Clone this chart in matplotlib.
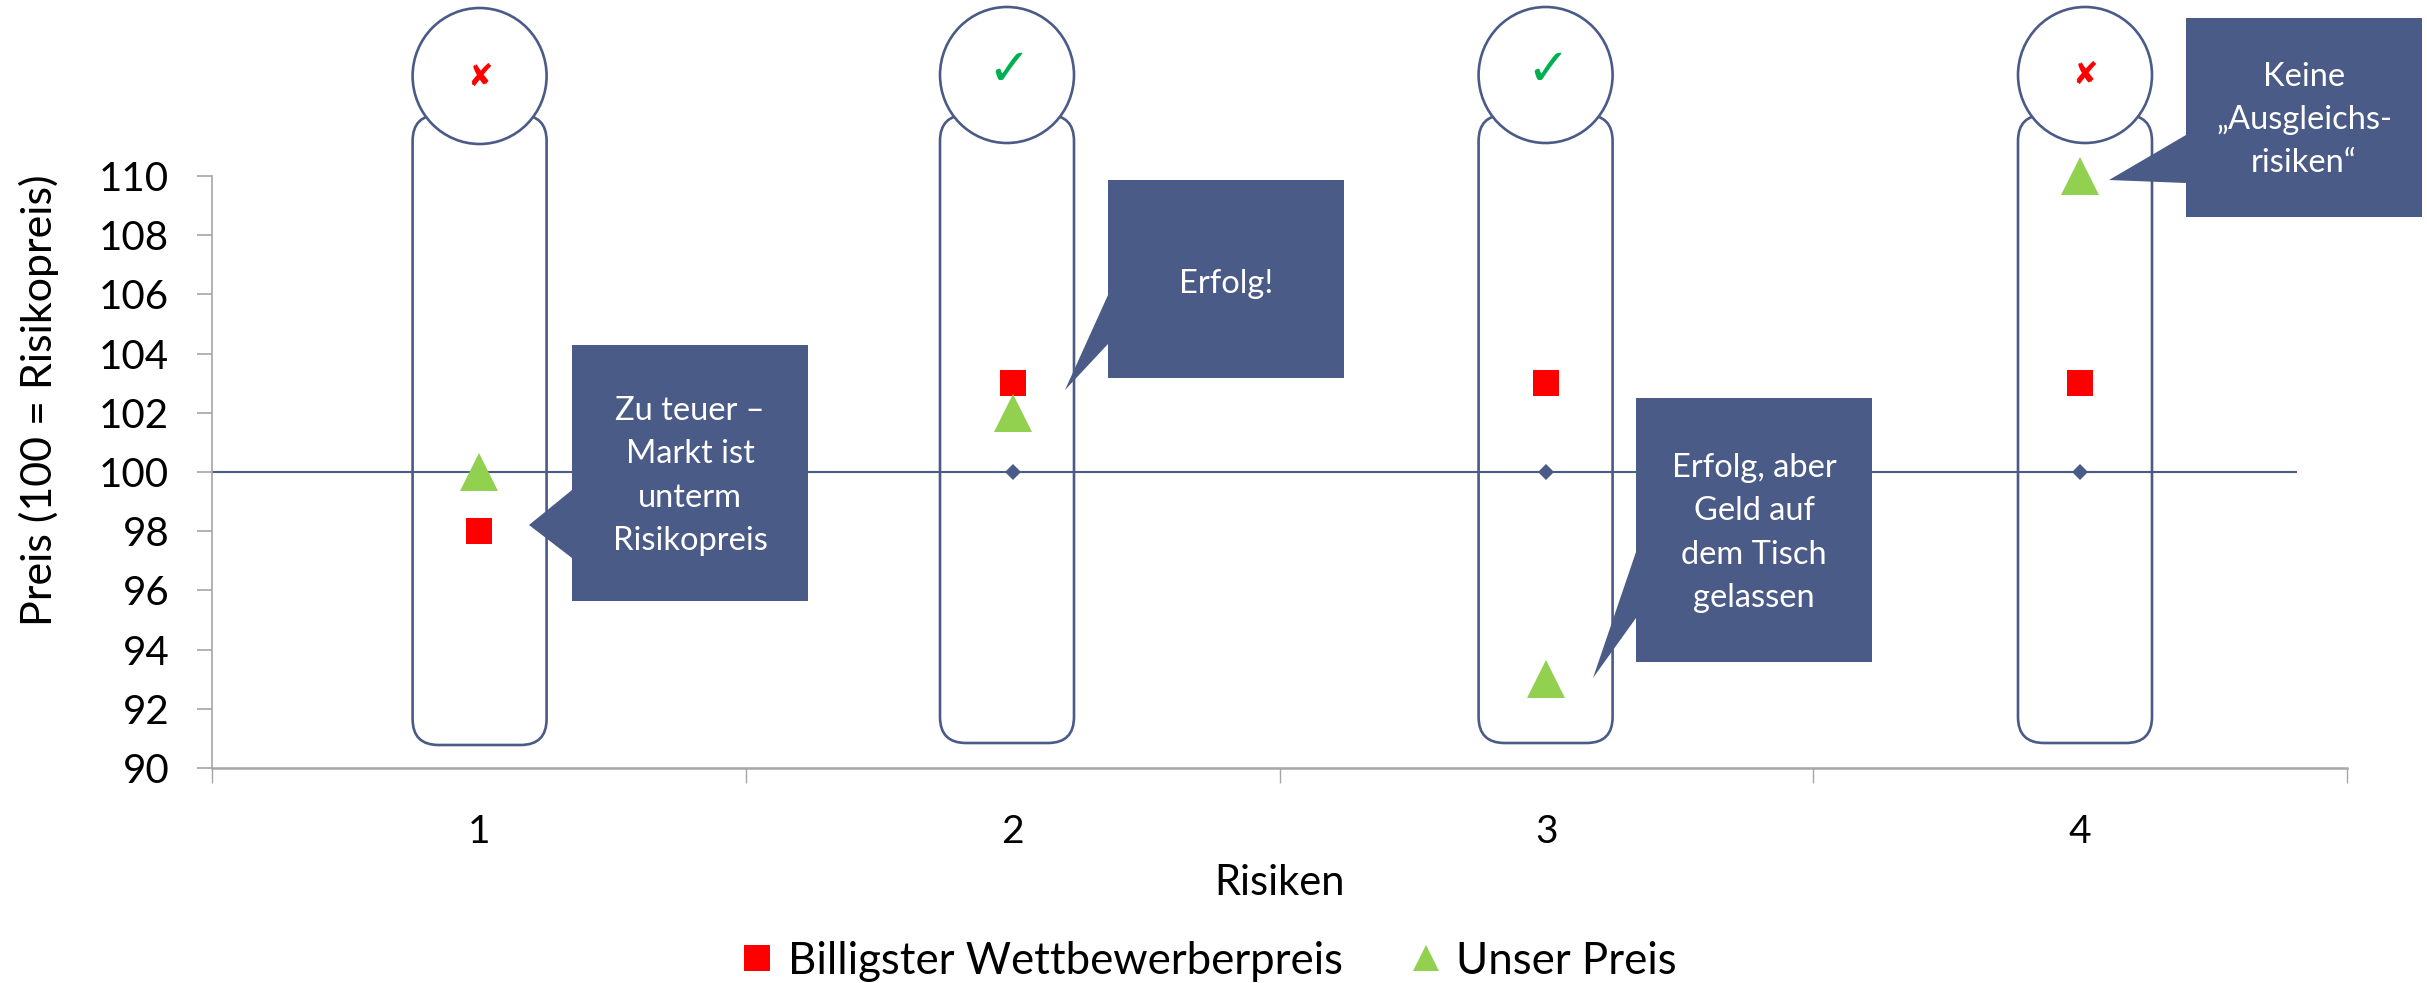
import matplotlib
matplotlib.use("Agg")
import matplotlib.pyplot as plt
from matplotlib.lines import Line2D
from matplotlib.patches import Ellipse, FancyBboxPatch, Polygon

W, H = 2427, 983

categories = [1, 2, 3, 4]
competitor_price = [98, 103, 103, 103]
our_price = [100, 102, 93, 110]
risk_price = [100, 100, 100, 100]
y_ticks = [90, 92, 94, 96, 98, 100, 102, 104, 106, 108, 110]

# verdict per risk
verdicts = ["\u2718", "\u2713", "\u2713", "\u2718"]
verdict_colors = ["#ff0000", "#00b050", "#00b050", "#ff0000"]

callout_texts = [
    "Zu teuer \u2013\nMarkt ist\nunterm\nRisikopreis",
    "Erfolg!",
    "Erfolg, aber\nGeld auf\ndem Tisch\ngelassen",
    "Keine\n\u201eAusgleichs-\nrisiken\u201c",
]

NAVY = "#4b5b87"
GREY = "#a6a6a6"
FONT = "Lato"

plt.rcParams["font.family"] = [FONT, "DejaVu Sans"]

fig = plt.figure(figsize=(W / 100, H / 100), dpi=100)
ax = fig.add_axes([212 / W, 1 - 768 / H, 2135 / W, 592 / H])

ax.hlines(100, 0.5, 4.406, color=NAVY, lw=1.5, zorder=1)
ax.plot(categories, risk_price, ls="", marker="D", ms=8.5, mew=0, color=NAVY, zorder=2)
ax.plot(categories, competitor_price, ls="", marker="s", ms=19.4, mew=0, color="#ff0000", zorder=3, clip_on=False)
ax.plot(categories, our_price, ls="", marker="^", ms=28, mew=0, color="#92d050", zorder=4, clip_on=False)

ax.set_xlim(0.5, 4.5)
ax.set_ylim(90, 110)
ax.set_yticks(y_ticks)
ax.set_xticks(categories)
ax.set_xticks([0.5, 1.5, 2.5, 3.5, 4.5], minor=True)
ax.tick_params(axis="x", which="major", length=0, pad=33, labelsize=28)
ax.tick_params(axis="x", which="minor", length=10.8, width=1, color=GREY)
ax.tick_params(axis="y", length=10.8, width=1.2, color=GREY, pad=20, labelsize=29)
for side in ["top", "right"]:
    ax.spines[side].set_visible(False)
ax.spines["left"].set_color(GREY)
ax.spines["left"].set_linewidth(1.2)
ax.spines["bottom"].set_color(GREY)
ax.spines["bottom"].set_linewidth(1.8)

ax.set_ylabel("Preis (100 = Risikopreis)", fontsize=31)
ax.yaxis.set_label_coords(-0.0715, 0.6216)
ax.set_xlabel("Risiken", fontsize=30)
ax.xaxis.set_label_coords(0.5, -0.163)

handles = [
    Line2D([], [], ls="", marker="s", ms=19.4, mew=0, color="#ff0000"),
    Line2D([], [], ls="", marker="^", ms=19, mew=0, color="#92d050"),
]
fig.legend(handles, ["Billigster Wettbewerberpreis", "Unser Preis"], loc="center",
           bbox_to_anchor=(1204 / W, 1 - 961 / H), ncol=2, frameon=False, fontsize=31.5,
           handletextpad=0.1, columnspacing=1.3, handlelength=1.2)

# shapes on top, in pixels of the picture
over = fig.add_axes([0, 0, 1, 1], zorder=5)
over.set_xlim(0, W)
over.set_ylim(H, 0)
over.axis("off")
over.patch.set_alpha(0)

pill_left = [412.6, 940, 1478.6, 2018]
pill_bottom = [745, 743, 743, 743]
circle_y = [76, 75, 75, 75]
for i in range(4):
    over.add_patch(FancyBboxPatch((pill_left[i], 115), 134, pill_bottom[i] - 115,
                                  boxstyle="round,pad=0,rounding_size=26",
                                  fc="none", ec=NAVY, lw=1.9))
    cx = pill_left[i] + 67
    over.add_patch(Ellipse((cx, circle_y[i]), 134, 136, fc="white", ec=NAVY, lw=1.9))
    if verdicts[i] == "\u2713":
        over.text(cx + 2, circle_y[i] - 4, verdicts[i], color=verdict_colors[i], fontsize=37,
                  family="DejaVu Sans", ha="center", va="center")
    else:
        over.text(cx, circle_y[i] + 1, verdicts[i], color=verdict_colors[i], fontsize=22,
                  family="DejaVu Sans", ha="center", va="center")


def callout(box, tip, base, text, text_y):
    x0, y0, x1, y1 = box
    over.add_patch(Polygon([(x0, y0), (x1, y0), (x1, y1), (x0, y1), (x0, base[1]), tip, (x0, base[0])],
                           closed=True, fc=NAVY, ec="none"))
    over.text((x0 + x1) / 2, text_y, text, color="white", fontsize=23.5,
              ha="center", va="center", linespacing=1.55)


callout((572, 345, 808, 601), (529, 525), (490, 558), callout_texts[0], 476)
callout((1108, 180, 1344, 378), (1065, 390), (295, 344), callout_texts[1], 284)
callout((1636, 398, 1872, 662), (1593, 678), (552, 618), callout_texts[2], 533)
callout((2186, 18, 2422, 217), (2109, 180), (135, 183), callout_texts[3], 120)

fig.savefig("out.png", dpi=100)
